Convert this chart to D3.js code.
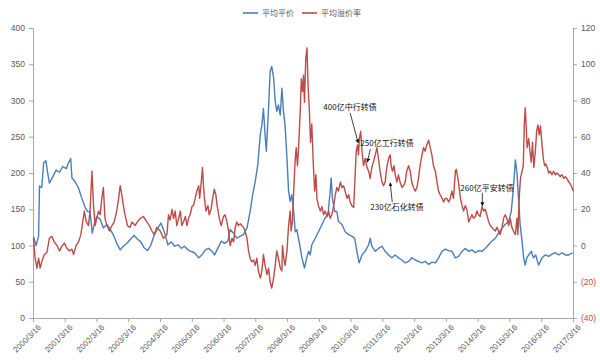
<!DOCTYPE html>
<html><head><meta charset="utf-8">
<script src="https://cdn.jsdelivr.net/npm/d3@7"></script>
<style>
body{margin:0;background:#fff;}
svg{display:block;font-family:"Liberation Sans","Noto Sans CJK SC",sans-serif;}
</style></head>
<body><svg id="chart" width="600" height="360"></svg>
<script>
// ---- data (decimal years) ----
const seriesNames = ["平均平价", "平均溢价率"];
const xTickLabels = ["2000/3/16","2001/3/16","2002/3/16","2003/3/16","2004/3/16","2005/3/16","2006/3/16","2007/3/16","2008/3/16","2009/3/16","2010/3/16","2011/3/16","2012/3/16","2013/3/16","2014/3/16","2015/3/16","2016/3/16","2017/3/16"];
const leftTicks = [0,50,100,150,200,250,300,350,400];
const rightTicks = [-40,-20,0,20,40,60,80,100,120];

const parityDates = [2000.22,2000.30,2000.38,2000.41,2000.48,2000.54,2000.61,2000.66,2000.72,2000.83,2000.93,2001.04,2001.14,2001.25,2001.32,2001.39,2001.43,2001.53,2001.64,2001.74,2001.85,2001.92,2002.00,2002.07,2002.13,2002.21,2002.32,2002.42,2002.53,2002.63,2002.74,2002.84,2002.95,2003.05,2003.16,2003.26,2003.39,2003.49,2003.60,2003.70,2003.81,2003.91,2004.02,2004.12,2004.23,2004.31,2004.37,2004.45,2004.56,2004.66,2004.77,2004.87,2004.97,2005.08,2005.18,2005.29,2005.42,2005.52,2005.63,2005.73,2005.84,2005.92,2006.02,2006.13,2006.23,2006.34,2006.41,2006.52,2006.62,2006.73,2006.83,2006.94,2007.04,2007.12,2007.20,2007.28,2007.36,2007.41,2007.46,2007.51,2007.55,2007.62,2007.67,2007.72,2007.78,2007.83,2007.88,2007.93,2007.99,2008.04,2008.09,2008.14,2008.20,2008.25,2008.30,2008.35,2008.41,2008.46,2008.51,2008.56,2008.62,2008.67,2008.75,2008.82,2008.88,2008.93,2008.98,2009.09,2009.19,2009.30,2009.40,2009.49,2009.56,2009.59,2009.63,2009.70,2009.77,2009.82,2009.93,2010.03,2010.14,2010.24,2010.33,2010.40,2010.47,2010.56,2010.66,2010.77,2010.82,2010.87,2010.98,2011.08,2011.19,2011.29,2011.40,2011.50,2011.61,2011.71,2011.82,2011.92,2012.03,2012.13,2012.24,2012.34,2012.45,2012.55,2012.66,2012.76,2012.87,2012.97,2013.08,2013.18,2013.29,2013.39,2013.50,2013.60,2013.71,2013.81,2013.92,2014.02,2014.13,2014.23,2014.34,2014.44,2014.55,2014.65,2014.76,2014.86,2014.97,2015.07,2015.18,2015.26,2015.32,2015.39,2015.44,2015.49,2015.54,2015.60,2015.65,2015.70,2015.75,2015.81,2015.89,2015.96,2016.03,2016.12,2016.23,2016.33,2016.44,2016.54,2016.65,2016.75,2016.86,2016.96,2017.07,2017.19];
const parityValues = [112,100,113,182,180,214,217,202,186,195,204,201,209,206,214,220,193,188,179,165,152,147,146,117,129,140,136,124,129,123,114,103,94,99,103,108,114,109,105,97,93,100,114,123,131,122,114,101,105,99,101,96,99,94,92,90,83,87,94,96,92,87,96,106,103,106,122,117,110,113,115,124,147,170,188,211,253,266,289,253,230,289,340,347,331,299,285,294,280,317,285,266,220,175,161,170,147,119,122,110,96,83,69,83,92,87,101,110,119,129,138,142,175,193,165,147,147,133,129,119,115,113,110,92,76,87,92,101,110,99,92,96,99,92,87,83,87,83,80,76,78,83,80,78,76,78,74,77,76,83,92,95,93,92,83,85,92,96,92,94,90,93,92,96,101,106,110,117,124,129,133,147,175,218,200,165,129,106,83,73,83,87,92,83,87,73,83,87,85,88,90,87,90,87,87,90];

const premiumDates = [2000.22,2000.27,2000.33,2000.38,2000.43,2000.48,2000.56,2000.64,2000.72,2000.80,2000.87,2000.96,2001.04,2001.11,2001.19,2001.27,2001.35,2001.43,2001.48,2001.56,2001.64,2001.71,2001.77,2001.82,2001.88,2001.95,2002.00,2002.06,2002.11,2002.16,2002.21,2002.27,2002.32,2002.37,2002.42,2002.47,2002.53,2002.61,2002.69,2002.76,2002.84,2002.90,2002.95,2003.00,2003.05,2003.10,2003.18,2003.26,2003.32,2003.42,2003.49,2003.58,2003.68,2003.79,2003.87,2003.95,2004.02,2004.10,2004.21,2004.31,2004.42,2004.47,2004.52,2004.58,2004.63,2004.68,2004.73,2004.79,2004.84,2004.89,2004.94,2005.00,2005.05,2005.10,2005.15,2005.21,2005.26,2005.31,2005.36,2005.42,2005.45,2005.50,2005.54,2005.57,2005.60,2005.65,2005.71,2005.75,2005.81,2005.86,2005.91,2005.96,2006.00,2006.07,2006.13,2006.20,2006.25,2006.31,2006.36,2006.41,2006.47,2006.52,2006.57,2006.62,2006.67,2006.73,2006.78,2006.83,2006.88,2006.94,2006.99,2007.04,2007.09,2007.15,2007.20,2007.25,2007.30,2007.36,2007.41,2007.46,2007.51,2007.57,2007.62,2007.67,2007.72,2007.78,2007.83,2007.88,2007.93,2007.99,2008.04,2008.06,2008.10,2008.14,2008.20,2008.25,2008.30,2008.33,2008.37,2008.41,2008.46,2008.49,2008.53,2008.56,2008.62,2008.65,2008.69,2008.72,2008.75,2008.79,2008.83,2008.86,2008.90,2008.94,2008.98,2009.03,2009.07,2009.11,2009.14,2009.19,2009.25,2009.30,2009.35,2009.40,2009.46,2009.51,2009.56,2009.61,2009.67,2009.72,2009.77,2009.82,2009.88,2009.93,2009.98,2010.03,2010.09,2010.14,2010.19,2010.24,2010.30,2010.35,2010.38,2010.42,2010.45,2010.48,2010.52,2010.56,2010.61,2010.66,2010.72,2010.77,2010.82,2010.87,2010.92,2010.98,2011.03,2011.08,2011.13,2011.19,2011.24,2011.29,2011.34,2011.40,2011.45,2011.48,2011.52,2011.57,2011.61,2011.66,2011.71,2011.76,2011.82,2011.87,2011.92,2011.97,2012.03,2012.08,2012.13,2012.18,2012.24,2012.29,2012.34,2012.39,2012.45,2012.50,2012.55,2012.60,2012.66,2012.71,2012.76,2012.81,2012.87,2012.92,2012.97,2013.02,2013.08,2013.13,2013.18,2013.23,2013.29,2013.34,2013.39,2013.44,2013.50,2013.53,2013.58,2013.62,2013.66,2013.71,2013.76,2013.81,2013.86,2013.92,2013.97,2014.02,2014.07,2014.13,2014.18,2014.23,2014.28,2014.34,2014.39,2014.44,2014.49,2014.55,2014.60,2014.65,2014.70,2014.76,2014.81,2014.86,2014.91,2014.97,2015.02,2015.07,2015.12,2015.18,2015.23,2015.28,2015.33,2015.39,2015.44,2015.47,2015.51,2015.55,2015.60,2015.64,2015.67,2015.70,2015.73,2015.76,2015.81,2015.85,2015.89,2015.93,2015.97,2016.02,2016.06,2016.10,2016.14,2016.18,2016.23,2016.27,2016.31,2016.35,2016.39,2016.44,2016.49,2016.54,2016.59,2016.65,2016.70,2016.75,2016.80,2016.86,2016.91,2016.96,2017.01,2017.07,2017.12,2017.17,2017.21];
const premiumValues = [4,-7,-12.5,-7,-12.5,-9,-5,-4,4,5,2,0,-3,-0.5,1.3,-1.5,-3,-2,-5,0,2,6,13,19,13,11,19,41,22,11,15,19,17,26,32,15,11,8,11,13,19,26,33,28,22,17,11,10,13,11,13,15,16,13,11,8,6,10,8,4,6,17,14,20,15,19,11,15,19,11,13,16,11,15,17,21.5,22.4,26,30,33,26,35,43,33,26,19,22,17,20,26,31,28,22,15,11,16,17,13,8,0,4,2,10,13,11,12,11,10,8,4,-3,-7,-9,-8,-11,-7,-14,-18,-14,-5,-11,-16,-12.5,-20,-23.5,-18,-11,-3,-7,-12.5,-14,0,-7,-11,-3,11,19,8,13,30,48,54,44,52,76,92,85,94,79,103,109,89,76,57,67,44,30,39,26,22,19,21.5,17,19,16,19,15,17,22,28,32,30,35,32,33,30,26,28,24,22,21,41,52,55.5,50,59,63,52,44,48,43,41,37,43,46,50,54,48,41,35,33,35,43,48,50,44,41,44,39,35,39,35,32,33,35,41,44,41,35,32,30,32,37,44,50,54,52,55.5,58,54,50,44,41,35,30,28,26,24,26,26,24,26,30,26,41,42,37,32,26,22,19,22,20,13,15,17,15,16,19,17,16,21.5,19,20,17,13,11,10,9,8,10,8,6,10,15,17,15,11,15,10,8,6,15,6,26,37,41,44,66.5,76,66.5,54,59,52,46,57,43,52,63,66.5,61,66,55.5,48,44,45,43,40,41,39,41,39,40,39,38,39,37,38,37,35,34,32,30];

// annotations: label, target date (decimal year) and target premium value
const annotations = [
  {label:"400亿中行转债", date:2010.44, value:56.6, dx:-8, dy:-30},
  {label:"250亿工行转债", date:2010.73, value:46, dx:3, dy:-13},
  {label:"230亿石化转债", date:2011.45, value:34.6, dx:2, dy:19},
  {label:"260亿平安转债", date:2014.35, value:21.9, dx:0, dy:-13}
];

// ---- helpers ----
function toDate(y){const yr=Math.floor(y);const s=new Date(yr,0,1),e=new Date(yr+1,0,1);return new Date(+s+(y-yr)*(e-s));}
const parseTick = d3.timeParse("%Y/%m/%d");

const svg = d3.select("#chart");
const L=33, R=573, T=28, B=318;
const blue="#4a7ebb", red="#be4b48", axisCol="#a6a6a6", txt="#595959";

const x = d3.scaleTime().domain([parseTick(xTickLabels[0]), parseTick(xTickLabels[xTickLabels.length-1])]).range([L,R]);
const yL = d3.scaleLinear().domain([0,400]).range([B,T]);
const yR = d3.scaleLinear().domain([-40,120]).range([B,T]);

// axes
const gl = svg.append("g").attr("transform",`translate(${L},0)`)
  .call(d3.axisLeft(yL).tickValues(leftTicks).tickSize(4).tickPadding(4));
const gr = svg.append("g").attr("transform",`translate(${R},0)`)
  .call(d3.axisRight(yR).tickValues(rightTicks).tickSize(4).tickPadding(4)
    .tickFormat(v=>v<0?`(${-v})`:v));
const gx = svg.append("g").attr("transform",`translate(0,${B})`)
  .call(d3.axisBottom(x).tickValues(xTickLabels.map(parseTick)).tickSize(4).tickFormat((d,i)=>xTickLabels[i]));
[gl,gr,gx].forEach(g=>{
  g.select(".domain").attr("stroke",axisCol);
  g.selectAll(".tick line").attr("stroke",axisCol);
  g.selectAll("text").attr("fill",txt).style("font-size","8.5px");
});
gr.selectAll(".tick text").attr("fill",d=>d<0?red:txt);
gx.selectAll(".tick text").style("font-size","8px")
  .attr("text-anchor","end").attr("dx","0").attr("dy","0")
  .attr("transform","translate(3,5) rotate(-45)");

// lines
const parity = parityDates.map((d,i)=>({d:toDate(d),v:parityValues[i]}));
const premium = premiumDates.map((d,i)=>({d:toDate(d),v:premiumValues[i]}));
svg.append("path").datum(parity).attr("fill","none").attr("stroke",blue).attr("stroke-width",1.4)
  .attr("stroke-linejoin","round").attr("d",d3.line().x(p=>x(p.d)).y(p=>yL(p.v)));
svg.append("path").datum(premium).attr("fill","none").attr("stroke",red).attr("stroke-width",1.4)
  .attr("stroke-linejoin","round").attr("d",d3.line().x(p=>x(p.d)).y(p=>yR(p.v)));

// annotations
const defs = svg.append("defs");
defs.append("marker").attr("id","arr").attr("viewBox","0 0 10 10").attr("refX",9).attr("refY",5)
  .attr("markerWidth",5).attr("markerHeight",5).attr("orient","auto")
  .append("path").attr("d","M0,0L10,5L0,10Z").attr("fill","#111");
annotations.forEach(a=>{
  const tx=x(toDate(a.date)), ty=yR(a.value);
  const sx=tx+a.dx, sy=ty+a.dy;
  svg.append("line").attr("x1",sx).attr("y1",sy).attr("x2",tx).attr("y2",ty)
    .attr("stroke","#111").attr("stroke-width",0.8).attr("marker-end","url(#arr)");
});
const labelPos = [[350,110],[387,146],[397,210],[487,191]];
annotations.forEach((a,i)=>{
  svg.append("text").attr("x",labelPos[i][0]).attr("y",labelPos[i][1]).attr("text-anchor","middle")
    .attr("fill","#111").style("font-size","8px").style("font-family","'Noto Sans CJK SC',sans-serif").text(a.label);
});

// legend
const lg = svg.append("g");
[[243,blue,seriesNames[0]],[302,red,seriesNames[1]]].forEach(([lx,c,n])=>{
  lg.append("line").attr("x1",lx).attr("x2",lx+15).attr("y1",13).attr("y2",13).attr("stroke",c).attr("stroke-width",1.6);
  lg.append("text").attr("x",lx+19).attr("y",16).attr("fill",txt).style("font-size","8px")
    .style("font-family","'Noto Sans CJK SC',sans-serif").text(n);
});
</script></body></html>
